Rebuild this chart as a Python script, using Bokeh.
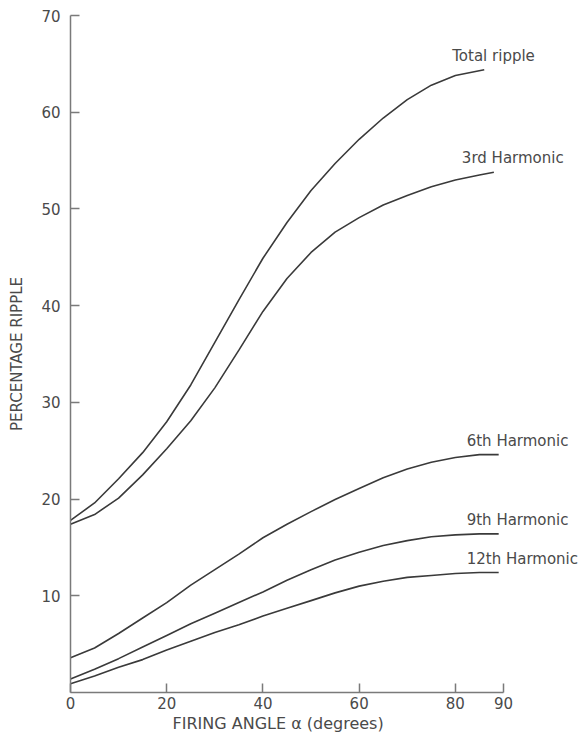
from bokeh.plotting import figure
from bokeh.models import FixedTicker, Label, Title
from bokeh.embed import file_html
from bokeh.resources import INLINE

# ---- data ----
total_angle = [0, 5, 10, 15, 20, 25, 30, 35, 40, 45, 50, 55, 60, 65, 70, 75, 80, 86]
total_ripple = [17.8, 19.6, 22.1, 24.8, 28.0, 31.8, 36.2, 40.6, 44.9, 48.6, 51.9, 54.7,
                57.2, 59.4, 61.3, 62.8, 63.8, 64.4]

h3_angle = [0, 5, 10, 15, 20, 25, 30, 35, 40, 45, 50, 55, 60, 65, 70, 75, 80, 85, 88]
h3_ripple = [17.4, 18.4, 20.1, 22.5, 25.2, 28.1, 31.5, 35.4, 39.4, 42.8, 45.5, 47.6,
             49.1, 50.4, 51.4, 52.3, 53.0, 53.5, 53.8]

h6_angle = [0, 5, 10, 15, 20, 25, 30, 35, 40, 45, 50, 55, 60, 65, 70, 75, 80, 85, 89]
h6_ripple = [3.6, 4.6, 6.1, 7.7, 9.3, 11.1, 12.7, 14.3, 16.0, 17.4, 18.7, 19.95,
             21.1, 22.2, 23.1, 23.8, 24.3, 24.6, 24.6]

h9_angle = [0, 5, 10, 15, 20, 25, 30, 35, 40, 45, 50, 55, 60, 65, 70, 75, 80, 85, 89]
h9_ripple = [1.4, 2.4, 3.5, 4.7, 5.9, 7.1, 8.2, 9.3, 10.4, 11.6, 12.7, 13.7,
             14.5, 15.2, 15.7, 16.1, 16.3, 16.4, 16.4]

h12_angle = [0, 5, 10, 15, 20, 25, 30, 35, 40, 45, 50, 55, 60, 65, 70, 75, 80, 85, 89]
h12_ripple = [0.9, 1.7, 2.6, 3.4, 4.4, 5.3, 6.2, 7.0, 7.9, 8.7, 9.5, 10.3,
              11.0, 11.5, 11.9, 12.1, 12.3, 12.4, 12.4]

series_names = ["Total ripple", "3rd Harmonic", "6th Harmonic", "9th Harmonic", "12th Harmonic"]
x_ticks = [0, 20, 40, 60, 80, 90]
y_ticks = [10, 20, 30, 40, 50, 60, 70]
x_axis_end = 90
x_title = "FIRING ANGLE α (degrees)"
y_title = "PERCENTAGE RIPPLE"

FONT = "DejaVu Sans"
INK = "#3a3a3a"
TXT = "#4a4a4a"
AX = "#7a7a7a"

# frame extends right of 90 so the curve names have room; axis line stops at 90
p = figure(width=579, height=732, x_range=(0, 105.8), y_range=(0, 70),
           output_backend="svg", toolbar_location=None,
           min_border_left=70, min_border_right=0, min_border_top=15, min_border_bottom=40)
p.outline_line_color = None
p.xgrid.visible = False
p.ygrid.visible = False
p.background_fill_color = "white"
p.border_fill_color = "white"

p.xaxis.ticker = FixedTicker(ticks=x_ticks)
p.yaxis.ticker = FixedTicker(ticks=y_ticks)
p.xaxis.bounds = (0, x_axis_end)
for ax in (p.xaxis, p.yaxis):
    ax.axis_line_color = AX
    ax.axis_line_width = 1.5
    ax.major_tick_line_color = AX
    ax.major_tick_line_width = 1.5
    ax.major_tick_in = 9
    ax.major_tick_out = 0
    ax.minor_tick_line_color = None
    ax.major_label_text_font = FONT
    ax.major_label_text_color = TXT
    ax.major_label_text_font_size = "15px"
    ax.axis_label_text_font = FONT
    ax.axis_label_text_color = TXT
    ax.axis_label_text_font_style = "normal"

p.yaxis.axis_label = y_title
p.yaxis.axis_label_text_font_size = "15px"
p.xaxis.major_label_standoff = 4
p.yaxis.major_label_standoff = 10
p.yaxis.axis_label_standoff = 12

# x-axis title placed under the 0..90 part of the axis
p.add_layout(Title(text=x_title, align="left", offset=102, standoff=0,
                   text_font=FONT, text_font_size="16px", text_color=TXT,
                   text_font_style="normal"), "below")

all_series = [(total_angle, total_ripple), (h3_angle, h3_ripple), (h6_angle, h6_ripple),
              (h9_angle, h9_ripple), (h12_angle, h12_ripple)]

for (xs, ys), name in zip(all_series, series_names):
    p.line(xs, ys, line_color=INK, line_width=1.6)
    p.add_layout(Label(x=xs[-1], y=ys[-1], text=name, x_offset=-32, y_offset=14,
                       text_font=FONT, text_font_size="15px", text_color=TXT,
                       text_align="left", text_baseline="middle"))

html = file_html(p, INLINE)
open("out.html", "w").write(html)
